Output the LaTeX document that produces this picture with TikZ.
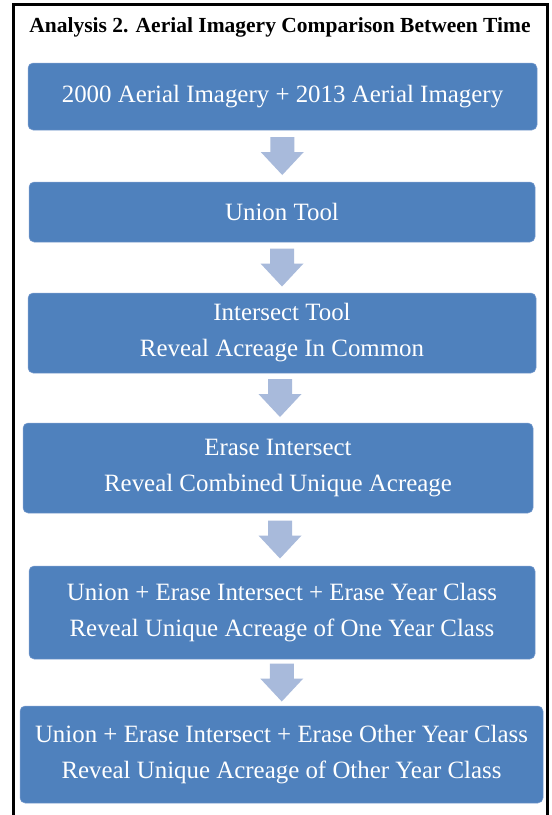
\documentclass[tikz,border=0pt]{standalone}
\usepackage{fontspec}
\setmainfont{Liberation Serif}
\usetikzlibrary{calc}
\definecolor{boxblue}{HTML}{4F81BD}
\definecolor{boxedge}{HTML}{7E9FD0}
\definecolor{arrowblue}{HTML}{A8BADB}

% block arrow pointing down, centred in the gap between two boxes
\newcommand\flowstep[2]{%
  \path ($(#1.south)!0.5!(#2.north)$) coordinate (m);
  \fill[flowarrow] ([shift={(-12pt,19pt)}]m) -- ([shift={(12pt,19pt)}]m)
    -- ([shift={(12pt,4pt)}]m) -- ([shift={(21.5pt,4pt)}]m)
    -- ([shift={(0pt,-19pt)}]m) -- ([shift={(-21.5pt,4pt)}]m)
    -- ([shift={(-12pt,4pt)}]m) -- cycle;}

\begin{document}
\begin{tikzpicture}[x=1pt,y=-1pt,
  stepbox/.style={rectangle, rounded corners=5pt, fill=boxblue, draw=boxedge,
    line width=0.5pt, text=white, align=center, inner sep=0pt,
    font=\fontsize{24.9}{36}\selectfont},
  flowarrow/.style={fill=arrowblue},
  heading/.style={font=\bfseries\fontsize{21.5}{25}\selectfont, inner sep=0pt}]
\useasboundingbox (0,0) rectangle (552,815);
\fill[white] (0,0) rectangle (552,815);

% frame, open at the bottom edge of the page
\draw[line width=3pt] (13.5,815) -- (13.5,4) -- (547.5,4) -- (547.5,815);

\node[heading] (title) at (280,27) {Analysis 2. Aerial Imagery Comparison Between Time};

\node[stepbox, minimum width=509pt, minimum height=67pt] (b1) at (282.5,96.5)
  {2000 Aerial Imagery + 2013 Aerial Imagery};
\node[stepbox, minimum width=506pt, minimum height=60pt] (b2) at (282,212)
  {Union Tool};
\node[stepbox, minimum width=508pt, minimum height=80pt] (b3) at (282,333)
  {Intersect Tool\\Reveal Acreage In Common};
\node[stepbox, minimum width=510pt, minimum height=90pt] (b4) at (278,468)
  {Erase Intersect\\Reveal Combined Unique Acreage};
\node[stepbox, minimum width=506pt, minimum height=93pt] (b5) at (282,612.5)
  {Union + Erase Intersect + Erase Year Class\\Reveal Unique Acreage of One Year Class};
\node[stepbox, minimum width=523pt, minimum height=97pt] (b6) at (281.5,754.5)
  {Union + Erase Intersect + Erase Other Year Class\\Reveal Unique Acreage of Other Year Class};

\flowstep{b1}{b2}
\flowstep{b2}{b3}
\flowstep{b3}{b4}
\flowstep{b4}{b5}
\flowstep{b5}{b6}
\end{tikzpicture}
\end{document}
